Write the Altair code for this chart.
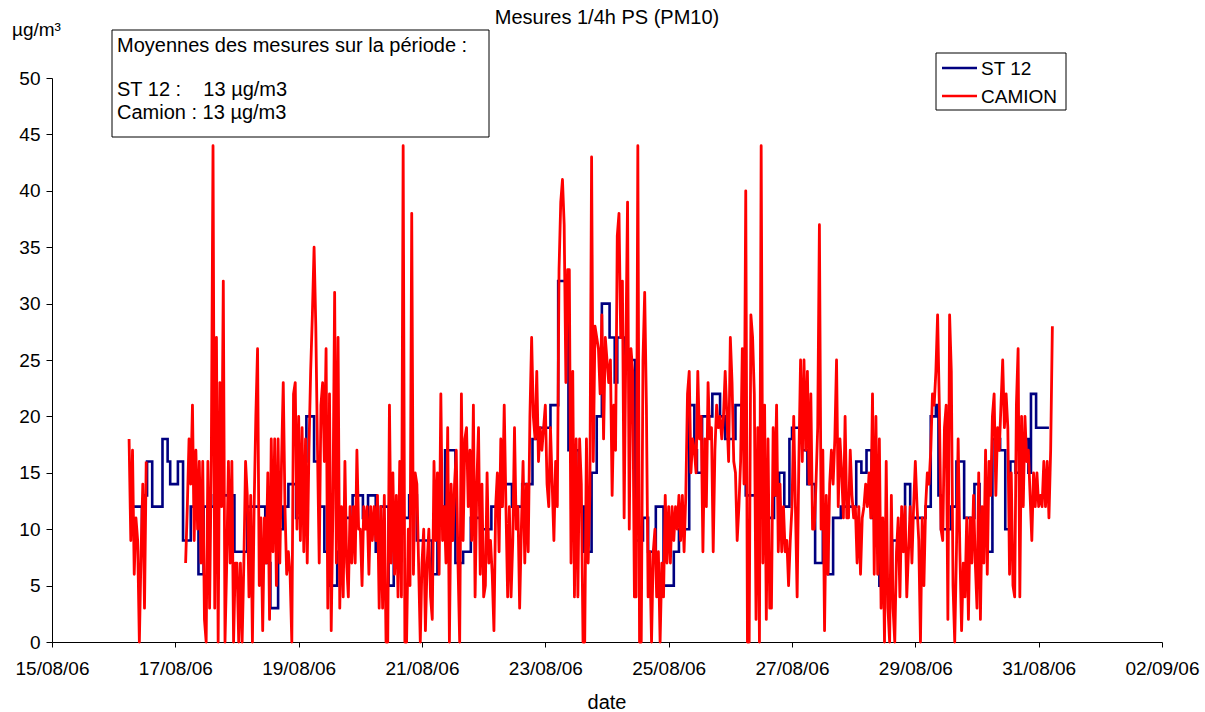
import altair as alt
import pandas as pd

# ---------------------------------------------------------------------------
# ST 12 station: hourly PM10 levels (µg/m3), given as runs.
# st12_start_h = hours after 16/08/06 06:00 at which each level begins.
# ---------------------------------------------------------------------------
st12_start_h = [
    0, 5, 6, 7, 9, 13, 15, 16, 19, 21,
    24, 27, 29, 33, 41, 46, 53, 55, 58, 60,
    62, 65, 67, 69, 72, 74, 76, 78, 81, 83,
    87, 91, 93, 96, 98, 101, 103, 106, 109, 112,
    118, 120, 123, 127, 130, 133, 137, 141, 145, 149,
    153, 157, 159, 164, 167, 171, 175, 177, 180, 182,
    184, 187, 189, 190, 193, 197, 200, 202, 205, 208,
    212, 214, 218, 220, 221, 223, 227, 230, 232, 236,
    240, 244, 251, 253, 255, 257, 258, 262, 264, 267,
    270, 272, 274, 277, 283, 285, 287, 289, 292, 297,
    302, 304, 310, 312, 314, 315, 316, 320, 322, 325,
    329, 331, 334, 336, 339, 341, 343, 345, 348, 350,
    351, 353,
]
st12_level = [
    12, 9, 13, 16, 12, 18, 16, 14, 16, 9,
    12, 6, 12, 13, 8, 12, 7, 3, 10, 12,
    14, 11, 16, 20, 16, 12, 8, 5, 8, 11,
    13, 11, 13, 8, 12, 5, 8, 11, 13, 9,
    6, 12, 17, 7, 8, 11, 10, 12, 14, 12,
    14, 18, 19, 21, 32, 17, 12, 8, 15, 20,
    30, 27, 23, 27, 25, 9, 11, 8, 12, 5,
    8, 10, 21, 17, 15, 20, 22, 20, 18, 21,
    13, 11, 13, 15, 12, 18, 19, 17, 14, 7,
    10, 6, 11, 12, 16, 15, 17, 11, 5, 9,
    14, 11, 12, 20, 21, 13, 10, 12, 16, 11,
    14, 11, 8, 18, 17, 10, 16, 15, 18, 15,
    22, 19,
]
st12_end_h = 358

# ---------------------------------------------------------------------------
# Mobile lab (CAMION): PM10 in µg/m3, one value every 40 minutes.
# Each day list begins at the given slot of that day (slot = 40 min).
# ---------------------------------------------------------------------------
cam_0816 = [18, 9, 17, 6, 11, 9, 0, 8, 14, 3, 16]
cam_0817 = [7, 12, 18, 14, 21, 9, 17, 10, 16, 7, 16, 2, 0, 16, 3, 16, 44, 3, 27, 0,
            23, 12, 32, 0, 7, 16, 7, 16, 0, 7]
cam_0818 = [7, 0, 7, 0, 7, 16, 13, 4, 13, 0, 12, 20, 26, 5, 11, 1, 11, 7, 15, 2,
            18, 8, 18, 5, 18, 7, 16, 23, 12, 6, 8, 6, 0, 22, 23, 10]
cam_0819 = [20, 9, 19, 8, 18, 7, 17, 24, 29, 35, 28, 17, 7, 21, 23, 16, 26, 3, 22, 1,
            12, 31, 7, 27, 3, 12, 4, 16, 7, 4, 12, 7, 12, 7, 17, 10]
cam_0820 = [10, 5, 12, 10, 12, 6, 12, 9, 12, 9, 13, 3, 12, 3, 13, 0, 0, 21, 7, 15,
            6, 13, 4, 16, 4, 44, 0, 0, 10, 5, 38, 6, 15, 14, 7, 0]
cam_0821 = [7, 10, 1, 7, 10, 4, 2, 16, 9, 15, 6, 22, 9, 12, 7, 19, 0, 14, 9, 14,
            17, 7, 0, 22, 9, 18, 19, 12, 17, 9, 21, 4, 14, 19, 6, 14]
cam_0822 = [4, 5, 15, 7, 9, 6, 1, 12, 15, 8, 18, 12, 21, 12, 4, 12, 4, 9, 19, 10,
            12, 3, 10, 16, 7, 14, 8, 20, 27, 20, 18, 24, 16, 19, 17, 19]
cam_0823 = [21, 14, 12, 19, 14, 9, 16, 12, 33, 39, 41, 37, 23, 33, 33, 7, 24, 4, 18, 4,
            18, 14, 0, 0, 18, 7, 13, 43, 16, 28, 27, 26, 22, 29, 18, 27]
cam_0824 = [25, 23, 25, 13, 21, 17, 36, 38, 27, 32, 11, 26, 39, 10, 26, 24, 4, 4, 44, 0,
            0, 25, 31, 21, 4, 8, 0, 8, 10, 4, 8, 0, 7, 4, 13, 7]
cam_0825 = [12, 7, 12, 9, 12, 10, 13, 9, 13, 8, 13, 22, 24, 15, 18, 17, 15, 24, 18, 20,
            8, 18, 12, 23, 18, 19, 8, 17, 21, 19, 20, 18, 20, 24, 20, 16]
cam_0826 = [27, 23, 16, 15, 9, 12, 16, 26, 14, 40, 0, 0, 29, 27, 22, 2, 19, 0, 44, 7,
            21, 2, 18, 3, 3, 19, 13, 21, 8, 14, 8, 12, 8, 9, 5, 9]
cam_0827 = [12, 20, 12, 4, 16, 25, 16, 25, 17, 24, 14, 22, 10, 10, 14, 19, 37, 10, 17, 1,
            13, 6, 14, 17, 14, 18, 25, 12, 18, 15, 11, 20, 11, 11, 17, 13]
cam_0828 = [11, 12, 7, 12, 6, 11, 12, 14, 12, 15, 11, 22, 6, 20, 6, 18, 3, 11, 0, 16,
            3, 0, 13, 3, 0, 8, 11, 4, 12, 8, 12, 4, 8, 12, 7, 12]
cam_0829 = [16, 12, 9, 0, 11, 5, 12, 15, 14, 17, 22, 21, 24, 29, 21, 10, 9, 19, 21, 2,
            29, 24, 5, 0, 8, 18, 8, 1, 7, 4, 11, 2, 11, 7, 13, 7]
cam_0830 = [3, 15, 2, 12, 7, 17, 6, 16, 13, 20, 22, 13, 19, 17, 21, 25, 19, 22, 19, 6,
            15, 5, 4, 21, 26, 4, 20, 12, 20, 16, 17, 13, 9, 15, 12, 15]
cam_0831 = [12, 13, 12, 16, 12, 16, 11, 17, 28]

camion_days = [
    ("2006-08-16", 9, cam_0816), ("2006-08-17", 6, cam_0817),
    ("2006-08-18", 0, cam_0818), ("2006-08-19", 0, cam_0819),
    ("2006-08-20", 0, cam_0820), ("2006-08-21", 0, cam_0821),
    ("2006-08-22", 0, cam_0822), ("2006-08-23", 0, cam_0823),
    ("2006-08-24", 0, cam_0824), ("2006-08-25", 0, cam_0825),
    ("2006-08-26", 0, cam_0826), ("2006-08-27", 0, cam_0827),
    ("2006-08-28", 0, cam_0828), ("2006-08-29", 0, cam_0829),
    ("2006-08-30", 0, cam_0830), ("2006-08-31", 0, cam_0831),
]

x_tick_days = [(8, 15), (8, 17), (8, 19), (8, 21), (8, 23), (8, 25),
               (8, 27), (8, 29), (8, 31), (9, 2)]
y_ticks = [0, 5, 10, 15, 20, 25, 30, 35, 40, 45, 50]

title_text = "Mesures 1/4h PS (PM10)"
unit_text = "µg/m³"
x_title = "date"
note_lines = ["Moyennes des mesures sur la période :",
              "ST 12 :\u00a0\u00a0\u00a0\u00a013 µg/m3",
              "Camion : 13 µg/m3"]
series_names = ["ST 12", "CAMION"]
series_colors = ["#000080", "#FF0000"]

# ---------------------------------------------------------------------------
# Tables
# ---------------------------------------------------------------------------
t0 = pd.Timestamp("2006-08-16 06:00")
st12 = pd.DataFrame({
    "t": [t0 + pd.Timedelta(hours=h) for h in st12_start_h + [st12_end_h]],
    "v": st12_level + [st12_level[-1]],
})

rows = []
for day, first, vals in camion_days:
    d0 = pd.Timestamp(day)
    for i, v in enumerate(vals):
        rows.append((d0 + pd.Timedelta(minutes=40 * (first + i)), v))
camion = pd.DataFrame(rows, columns=["t", "v"])
camion["seg"] = (camion["t"].diff() > pd.Timedelta(minutes=40)).cumsum()

FONT = "Liberation Sans"
FS = 19
W, H = 1110, 564

x_enc = alt.X(
    "t:T",
    scale=alt.Scale(domain=[alt.DateTime(year=2006, month=8, date=15),
                            alt.DateTime(year=2006, month=9, date=2)]),
    axis=alt.Axis(
        values=[alt.DateTime(year=2006, month=m, date=d) for m, d in x_tick_days],
        format="%d/%m/%y", title=None, grid=False, labelAngle=0,
        tickSize=5, labelPadding=12, labelFlush=False, labelOverlap=False,
    ),
)
y_enc = alt.Y(
    "v:Q",
    scale=alt.Scale(domain=[0, 50], nice=False, zero=True),
    axis=alt.Axis(values=y_ticks, title=None, grid=False, tickSize=6,
                  labelPadding=6),
)

st12_line = alt.Chart(st12).mark_line(
    interpolate="step-after", color=series_colors[0], strokeWidth=2.6
).encode(x=x_enc, y=y_enc)

camion_line = alt.Chart(camion).mark_line(
    color=series_colors[1], strokeWidth=2.8, strokeJoin="round"
).encode(x="t:T", y="v:Q", detail="seg:N")

one = pd.DataFrame({"k": [0]})


def label(txt, x, y, align="left", size=FS):
    return alt.Chart(one).mark_text(
        text=txt, align=align, baseline="middle", font=FONT,
        fontSize=size, color="black"
    ).encode(x=alt.value(x), y=alt.value(y))


def box(x1, x2, y1, y2):
    return alt.Chart(one).mark_rect(
        fill="white", stroke="black", strokeWidth=1
    ).encode(x=alt.value(x1), x2=alt.value(x2), y=alt.value(y1), y2=alt.value(y2))


def swatch(x1, x2, y, color):
    return alt.Chart(one).mark_rule(color=color, strokeWidth=2.6).encode(
        x=alt.value(x1), x2=alt.value(x2), y=alt.value(y))


layers = [
    st12_line,
    camion_line,
    label(title_text, W / 2, -60, align="center", size=20),
    label(unit_text, -40, -48),
    label(x_title, W / 2, 625, align="center", size=20),
    box(60, 437, -48, 59),
    label(note_lines[0], 65, -32, size=20),
    label(note_lines[1], 65, 12, size=20),
    label(note_lines[2], 65, 35, size=20),
    box(884, 1014, -25, 32),
    swatch(890, 925, -10, series_colors[0]),
    swatch(890, 925, 18, series_colors[1]),
    label(series_names[0], 929, -9),
    label(series_names[1], 929, 19),
]

chart = alt.layer(*layers).properties(
    width=W, height=H,
    autosize=alt.AutoSizeParams(type="none"),
    padding={"left": 52, "top": 78, "right": 43, "bottom": 70},
).configure_view(stroke=None).configure_axis(
    labelFont=FONT, labelFontSize=FS, labelColor="black",
    domainColor="black", tickColor="black", domainWidth=1, tickWidth=1,
)

chart.save("out.html", embed_options={"renderer": "svg", "actions": False})
